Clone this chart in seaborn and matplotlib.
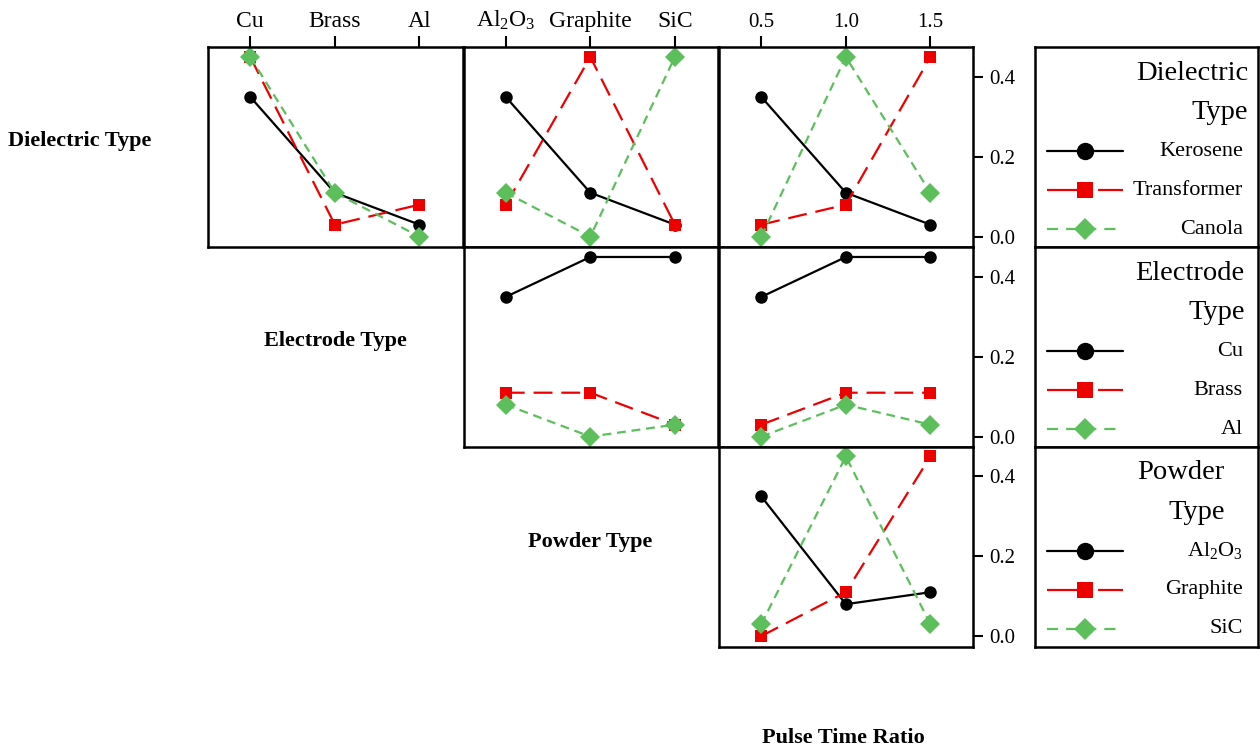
import matplotlib
matplotlib.use("Agg")
import matplotlib.pyplot as plt
from matplotlib.lines import Line2D
import pandas as pd
import seaborn as sns

# ---------------- data ----------------
dielectric_types = ["Kerosene", "Transformer", "Canola"]
electrode_types = ["Cu", "Brass", "Al"]
powder_types = ["Al$_\\mathrm{2}$O$_\\mathrm{3}$", "Graphite", "SiC"]
pulse_ratios = ["0.5", "1.0", "1.5"]

# Dielectric Type vs Electrode Type
kerosene_by_electrode = [0.35, 0.11, 0.03]
transformer_by_electrode = [0.45, 0.03, 0.08]
canola_by_electrode = [0.45, 0.11, 0.00]
# Dielectric Type vs Powder Type
kerosene_by_powder = [0.35, 0.11, 0.03]
transformer_by_powder = [0.08, 0.45, 0.03]
canola_by_powder = [0.11, 0.00, 0.45]
# Dielectric Type vs Pulse Time Ratio
kerosene_by_pulse = [0.35, 0.11, 0.03]
transformer_by_pulse = [0.03, 0.08, 0.45]
canola_by_pulse = [0.00, 0.45, 0.11]
# Electrode Type vs Powder Type
cu_by_powder = [0.35, 0.45, 0.45]
brass_by_powder = [0.11, 0.11, 0.03]
al_by_powder = [0.08, 0.00, 0.03]
# Electrode Type vs Pulse Time Ratio
cu_by_pulse = [0.35, 0.45, 0.45]
brass_by_pulse = [0.03, 0.11, 0.11]
al_by_pulse = [0.00, 0.08, 0.03]
# Powder Type vs Pulse Time Ratio
al2o3_by_pulse = [0.35, 0.08, 0.11]
graphite_by_pulse = [0.00, 0.11, 0.45]
sic_by_pulse = [0.03, 0.45, 0.03]

y_ticks = [0.0, 0.2, 0.4]
y_tick_labels = ["0.0", "0.2", "0.4"]

# ---------------- style ----------------
sns.set_theme(style="white")
plt.rcParams["font.family"] = ["Liberation Serif", "DejaVu Serif"]
plt.rcParams["mathtext.fontset"] = "custom"
plt.rcParams["mathtext.rm"] = "Liberation Serif"
plt.rcParams["mathtext.it"] = "Liberation Serif:italic"
plt.rcParams["mathtext.bf"] = "Liberation Serif:bold"
plt.rcParams["text.color"] = "black"
plt.rcParams["axes.labelcolor"] = "black"
plt.rcParams["xtick.color"] = "black"
plt.rcParams["ytick.color"] = "black"

colors = ["#000000", "#ee0000", "#5cbf5c"]
markers = ["o", "s", "D"]
dashes = ["", (8.5, 4.0), (4.0, 2.6)]
legend_dashes = ["", (20.0, 3.0), (5.0, 3.6)]
LW = 1.6
MS = 9
SPINE_W = 1.8

W, H = 1260, 752
fig = plt.figure(figsize=(W / 100, H / 100), dpi=100)
fig.patch.set_facecolor("white")

col_left = [208, 463.5, 719]
col_w = 254.5
row_top = [47, 247, 446.5]
row_h = 200
XLIM = (-0.5, 2.51)
YLIM = (-0.026, 0.475)


def make_ax(x0, y0, w, h):
    return fig.add_axes([x0 / W, 1 - (y0 + h) / H, w / W, h / H])


def draw_panel(ax, names, values):
    recs = []
    for name, vals in zip(names, values):
        for i, v in enumerate(vals):
            recs.append({"x": i, "y": v, "series": name})
    df = pd.DataFrame(recs)
    sns.lineplot(data=df, x="x", y="y", hue="series", style="series",
                 hue_order=names, style_order=names, palette=colors,
                 markers=markers, dashes=dashes, linewidth=LW,
                 markersize=MS, markeredgewidth=0, errorbar=None,
                 legend=False, sort=False, ax=ax)
    for ln in ax.lines:
        ln.set_clip_on(False)
        if ln.get_marker() == "D":
            ln.set_markersize(MS + 1.2)
    ax.set_xlim(*XLIM)
    ax.set_ylim(*YLIM)
    ax.set_xlabel("")
    ax.set_ylabel("")
    ax.set_xticks([])
    ax.set_yticks([])
    for s in ax.spines.values():
        s.set_visible(True)
        s.set_linewidth(SPINE_W)
        s.set_color("black")
    ax.set_facecolor("white")


def top_ticks(ax, labels, size):
    ax.xaxis.tick_top()
    ax.set_xticks(range(len(labels)))
    ax.set_xticklabels(labels)
    ax.tick_params(axis="x", top=True, bottom=False, direction="out",
                   length=8, width=1.5, pad=3, labelsize=size, colors="black")


def right_ticks(ax):
    ax.yaxis.tick_right()
    ax.set_yticks(y_ticks)
    ax.set_yticklabels(y_tick_labels)
    ax.tick_params(axis="y", right=True, left=False, direction="out",
                   length=7, width=1.5, pad=4, labelsize=15, colors="black")


def draw_legend(ax, title_lines, title_x, names):
    ax.set_xlim(0, 1)
    ax.set_ylim(0, 1)
    ax.set_xticks([])
    ax.set_yticks([])
    for s in ax.spines.values():
        s.set_visible(True)
        s.set_linewidth(SPINE_W)
        s.set_color("black")
    for t, yy in zip(title_lines, [0.868, 0.672]):
        ax.text(title_x, yy, t, ha="right", va="center", fontsize=20.5)
    for k, name in enumerate(names):
        yy = 0.48 - 0.196 * k
        ls = "-" if legend_dashes[k] == "" else (0, legend_dashes[k])
        h = Line2D([0.055, 0.225, 0.395], [yy, yy, yy], color=colors[k], lw=LW,
                   linestyle=ls, marker=markers[k], markevery=[1],
                   markersize=12.5 if k == 0 else 11.5, markeredgewidth=0)
        ax.add_line(h)
        ax.text(0.932, yy, name, ha="right", va="center", fontsize=16)


# Row 1: Dielectric Type
ax11 = make_ax(col_left[0], row_top[0], col_w, row_h)
draw_panel(ax11, dielectric_types,
           [kerosene_by_electrode, transformer_by_electrode, canola_by_electrode])
top_ticks(ax11, electrode_types, 17)

ax12 = make_ax(col_left[1], row_top[0], col_w, row_h)
draw_panel(ax12, dielectric_types,
           [kerosene_by_powder, transformer_by_powder, canola_by_powder])
top_ticks(ax12, powder_types, 17)

ax13 = make_ax(col_left[2], row_top[0], col_w, row_h)
draw_panel(ax13, dielectric_types,
           [kerosene_by_pulse, transformer_by_pulse, canola_by_pulse])
top_ticks(ax13, pulse_ratios, 15)
right_ticks(ax13)

# Row 2: Electrode Type
ax22 = make_ax(col_left[1], row_top[1], col_w, row_h)
draw_panel(ax22, electrode_types, [cu_by_powder, brass_by_powder, al_by_powder])

ax23 = make_ax(col_left[2], row_top[1], col_w, row_h)
draw_panel(ax23, electrode_types, [cu_by_pulse, brass_by_pulse, al_by_pulse])
right_ticks(ax23)

# Row 3: Powder Type
ax33 = make_ax(col_left[2], row_top[2], col_w, row_h)
draw_panel(ax33, powder_types, [al2o3_by_pulse, graphite_by_pulse, sic_by_pulse])
right_ticks(ax33)

# Legends
leg_x, leg_w = 1035, 223
lg1 = make_ax(leg_x, row_top[0], leg_w, row_h)
draw_legend(lg1, ["Dielectric", "Type"], 0.955, dielectric_types)
lg2 = make_ax(leg_x, row_top[1], leg_w, row_h)
draw_legend(lg2, ["Electrode", "Type"], 0.94, electrode_types)
lg3 = make_ax(leg_x, row_top[2], leg_w, row_h)
draw_legend(lg3, ["Powder", "Type"], 0.85, powder_types)

# Factor labels
lab_kw = dict(fontsize=16, fontweight="bold", ha="center", va="center",
              color="black")
fig.text(80 / W, 1 - 141 / H, "Dielectric Type", **lab_kw)
fig.text(335 / W, 1 - 341 / H, "Electrode Type", **lab_kw)
fig.text(590 / W, 1 - 542 / H, "Powder Type", **lab_kw)
fig.text(843 / W, 1 - 738 / H, "Pulse Time Ratio", **lab_kw)

fig.savefig("out.png", dpi=100, facecolor="white")
